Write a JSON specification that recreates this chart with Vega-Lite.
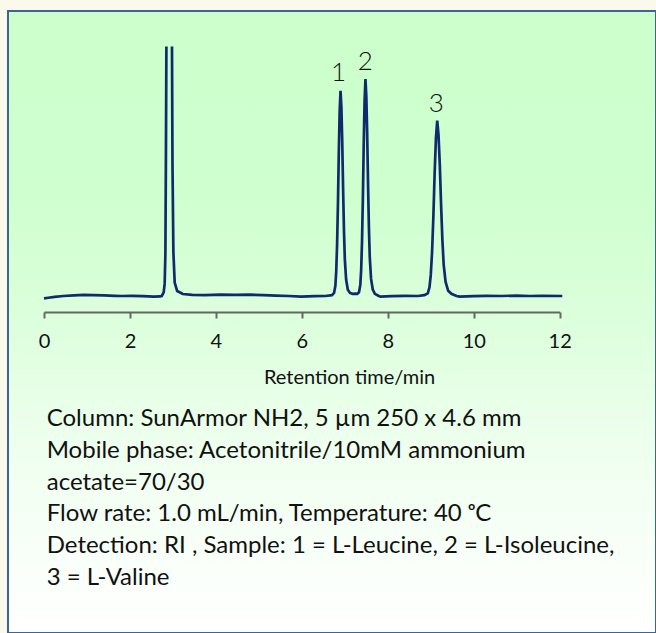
{
  "$schema": "https://vega.github.io/schema/vega-lite/v6.json",
  "width": 656,
  "height": 633,
  "autosize": {"type": "fit", "contains": "padding"},
  "padding": {"left": 8, "top": 11, "right": 0, "bottom": 0},
  "background": "#fbf8ec",
  "config": {
    "view": {
      "fill": {
        "gradient": "linear", "x1": 0, "y1": 0, "x2": 0, "y2": 1,
        "stops": [
          {"offset": 0, "color": "#ccffcc"},
          {"offset": 0.3, "color": "#cfffcf"},
          {"offset": 0.5, "color": "#dcffdc"},
          {"offset": 0.7, "color": "#eeffee"},
          {"offset": 0.9, "color": "#fafffa"},
          {"offset": 1, "color": "#ffffff"}
        ]
      },
      "stroke": "#3c6496",
      "strokeWidth": 2
    }
  },
  "datasets": {
    "trace": [
      {"t": 0.00, "v": -1.1, "seg": "a"}, {"t": 0.10, "v": -0.8, "seg": "a"}, {"t": 0.25, "v": -0.4, "seg": "a"},
      {"t": 0.45, "v": 0.0, "seg": "a"}, {"t": 0.70, "v": 0.3, "seg": "a"}, {"t": 0.92, "v": 0.5, "seg": "a"},
      {"t": 1.15, "v": 0.4, "seg": "a"}, {"t": 1.40, "v": 0.3, "seg": "a"}, {"t": 1.65, "v": 0.1, "seg": "a"},
      {"t": 1.80, "v": 0.0, "seg": "a"}, {"t": 2.05, "v": 0.1, "seg": "a"}, {"t": 2.30, "v": -0.1, "seg": "a"},
      {"t": 2.55, "v": -0.3, "seg": "a"}, {"t": 2.70, "v": -0.2, "seg": "a"}, {"t": 2.74, "v": 0.0, "seg": "a"},
      {"t": 2.785, "v": 1.7, "seg": "a"}, {"t": 2.808, "v": 5.7, "seg": "a"}, {"t": 2.825, "v": 19.7, "seg": "a"},
      {"t": 2.836, "v": 59.7, "seg": "a"}, {"t": 2.848, "v": 115, "seg": "a"},
      {"t": 2.978, "v": 115, "seg": "b"}, {"t": 2.990, "v": 60, "seg": "b"}, {"t": 3.011, "v": 20, "seg": "b"},
      {"t": 3.041, "v": 6.2, "seg": "b"}, {"t": 3.099, "v": 2.3, "seg": "b"}, {"t": 3.23, "v": 0.9, "seg": "b"},
      {"t": 3.45, "v": 0.5, "seg": "b"}, {"t": 3.75, "v": 0.4, "seg": "b"}, {"t": 4.10, "v": 0.6, "seg": "b"},
      {"t": 4.45, "v": 0.5, "seg": "b"}, {"t": 4.80, "v": 0.6, "seg": "b"}, {"t": 5.10, "v": 0.4, "seg": "b"},
      {"t": 5.40, "v": 0.2, "seg": "b"}, {"t": 5.70, "v": 0.0, "seg": "b"}, {"t": 5.98, "v": -0.3, "seg": "b"},
      {"t": 6.30, "v": -0.1, "seg": "b"}, {"t": 6.55, "v": 0.0, "seg": "b"}, {"t": 6.70, "v": 0.4, "seg": "b"},
      {"t": 6.75, "v": 1.4, "seg": "b"}, {"t": 6.78, "v": 4.7, "seg": "b"}, {"t": 6.80, "v": 11.4, "seg": "b"},
      {"t": 6.82, "v": 23.7, "seg": "b"}, {"t": 6.84, "v": 42.6, "seg": "b"}, {"t": 6.86, "v": 66.2, "seg": "b"},
      {"t": 6.88, "v": 85.1, "seg": "b"}, {"t": 6.90, "v": 94.6, "seg": "b"}, {"t": 6.92, "v": 87.0, "seg": "b"},
      {"t": 6.94, "v": 71.0, "seg": "b"}, {"t": 6.96, "v": 49.2, "seg": "b"}, {"t": 6.98, "v": 30.3, "seg": "b"},
      {"t": 7.00, "v": 17.0, "seg": "b"}, {"t": 7.03, "v": 7.6, "seg": "b"}, {"t": 7.07, "v": 2.9, "seg": "b"},
      {"t": 7.12, "v": 1.4, "seg": "b"}, {"t": 7.18, "v": 1.0, "seg": "b"}, {"t": 7.24, "v": 1.1, "seg": "b"},
      {"t": 7.29, "v": 1.0, "seg": "b"}, {"t": 7.33, "v": 1.7, "seg": "b"}, {"t": 7.36, "v": 5.1, "seg": "b"},
      {"t": 7.38, "v": 12, "seg": "b"}, {"t": 7.40, "v": 25, "seg": "b"}, {"t": 7.42, "v": 45, "seg": "b"},
      {"t": 7.44, "v": 70, "seg": "b"}, {"t": 7.46, "v": 90, "seg": "b"}, {"t": 7.48, "v": 100, "seg": "b"},
      {"t": 7.50, "v": 92, "seg": "b"}, {"t": 7.52, "v": 75, "seg": "b"}, {"t": 7.54, "v": 52, "seg": "b"},
      {"t": 7.56, "v": 32, "seg": "b"}, {"t": 7.58, "v": 18, "seg": "b"}, {"t": 7.61, "v": 8, "seg": "b"},
      {"t": 7.65, "v": 3, "seg": "b"}, {"t": 7.70, "v": 1.0, "seg": "b"}, {"t": 7.78, "v": 0.1, "seg": "b"},
      {"t": 7.83, "v": -0.3, "seg": "b"}, {"t": 8.10, "v": -0.1, "seg": "b"}, {"t": 8.40, "v": 0.1, "seg": "b"},
      {"t": 8.70, "v": 0.0, "seg": "b"}, {"t": 8.85, "v": 0.4, "seg": "b"}, {"t": 8.93, "v": 1.2, "seg": "b"},
      {"t": 8.97, "v": 4.0, "seg": "b"}, {"t": 9.00, "v": 9.7, "seg": "b"}, {"t": 9.03, "v": 20.2, "seg": "b"},
      {"t": 9.06, "v": 36.4, "seg": "b"}, {"t": 9.09, "v": 56.6, "seg": "b"}, {"t": 9.12, "v": 72.7, "seg": "b"},
      {"t": 9.15, "v": 80.8, "seg": "b"}, {"t": 9.18, "v": 74.3, "seg": "b"}, {"t": 9.21, "v": 60.6, "seg": "b"},
      {"t": 9.24, "v": 42.0, "seg": "b"}, {"t": 9.27, "v": 25.9, "seg": "b"}, {"t": 9.30, "v": 14.5, "seg": "b"},
      {"t": 9.345, "v": 6.5, "seg": "b"}, {"t": 9.405, "v": 2.4, "seg": "b"}, {"t": 9.48, "v": 1.0, "seg": "b"},
      {"t": 9.60, "v": 0.0, "seg": "b"}, {"t": 9.67, "v": -0.3, "seg": "b"}, {"t": 10.00, "v": -0.1, "seg": "b"},
      {"t": 10.30, "v": 0.1, "seg": "b"}, {"t": 10.65, "v": 0.0, "seg": "b"}, {"t": 11.00, "v": 0.2, "seg": "b"},
      {"t": 11.30, "v": 0.0, "seg": "b"}, {"t": 11.60, "v": 0.1, "seg": "b"}, {"t": 12.06, "v": 0.0, "seg": "b"}
    ],
    "peaks": [
      {"t": 6.853, "v": 99.2, "label": "1"},
      {"t": 7.474, "v": 104.1, "label": "2"},
      {"t": 9.126, "v": 84.9, "label": "3"}
    ],
    "notes": [
      {"row": 1, "line": "Column: SunArmor NH2, 5 µm 250 x  4.6 mm"},
      {"row": 2, "line": "Mobile phase: Acetonitrile/10mM ammonium"},
      {"row": 3, "line": "acetate=70/30"},
      {"row": 4, "line": "Flow rate: 1.0 mL/min, Temperature: 40 ᵒC"},
      {"row": 5, "line": "Detection: RI , Sample: 1 = L-Leucine, 2 = L-Isoleucine,"},
      {"row": 6, "line": "3 = L-Valine"}
    ]
  },
  "layer": [
    {
      "data": {"name": "trace"},
      "mark": {"type": "line", "color": "#0f2b6b", "strokeWidth": 2.7},
      "encoding": {
        "x": {
          "field": "t", "type": "quantitative",
          "scale": {"domain": [0, 12], "range": [36, 551.7], "nice": false, "zero": false},
          "axis": {
            "orient": "bottom", "offset": -321,
            "values": [0, 2, 4, 6, 8, 10, 12],
            "format": "d",
            "grid": false,
            "domainColor": "#666666", "domainWidth": 2,
            "tickColor": "#666666", "tickWidth": 2, "tickSize": 6,
            "labelFont": "Lato", "labelFontSize": 20, "labelColor": "#111111",
            "labelBaseline": "alphabetic", "labelPadding": 29,
            "labelFlush": false, "labelOverlap": false,
            "title": "Retention time/min",
            "titleFont": "Lato", "titleFontSize": 20, "titleFontWeight": "normal", "titleColor": "#111111",
            "titleX": 341, "titleY": 71, "titleAlign": "center", "titleBaseline": "alphabetic"
          }
        },
        "y": {
          "field": "v", "type": "quantitative",
          "scale": {"domain": [0, 100], "range": [285, 68], "nice": false, "zero": false},
          "axis": null
        },
        "detail": {"field": "seg"}
      }
    },
    {
      "data": {"name": "peaks"},
      "mark": {"type": "text", "font": "Lato", "fontWeight": 300, "fontSize": 26, "align": "center", "baseline": "alphabetic", "color": "#111111"},
      "encoding": {
        "x": {"field": "t", "type": "quantitative"},
        "y": {
          "field": "v", "type": "quantitative",
          "scale": {"domain": [0, 100], "range": [285, 68], "nice": false, "zero": false},
          "axis": null
        },
        "text": {"field": "label"}
      }
    },
    {
      "data": {"name": "notes"},
      "mark": {"type": "text", "font": "Lato", "fontSize": 24, "align": "left", "baseline": "alphabetic", "color": "#111111"},
      "encoding": {
        "x": {"datum": 0.063, "type": "quantitative"},
        "y": {"field": "row", "type": "ordinal", "scale": {"range": [415, 574], "padding": 0}, "axis": null},
        "text": {"field": "line"}
      }
    }
  ],
  "resolve": {"scale": {"y": "independent"}}
}
